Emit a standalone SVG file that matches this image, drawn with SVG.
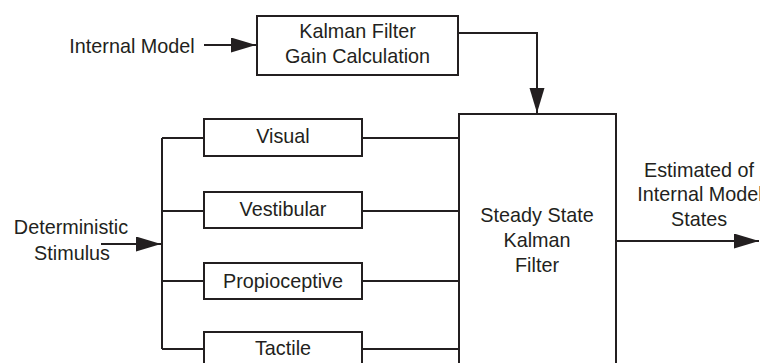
<svg xmlns="http://www.w3.org/2000/svg" width="760" height="363" viewBox="0 0 760 363">
<defs>
<style>
.box{fill:#fff;stroke:#231f20;stroke-width:2}
.ln{fill:none;stroke:#231f20;stroke-width:2}
text{font-family:"Liberation Sans",Arial,sans-serif;font-size:19.8px;fill:#231f20;text-anchor:middle}
</style>
<marker id="ah" markerUnits="userSpaceOnUse" markerWidth="26" markerHeight="16" refX="25" refY="7.5" orient="auto">
<path d="M0,0 L25,7.5 L0,15 Z" fill="#231f20"/>
</marker>
</defs>
<rect width="760" height="363" fill="#fff"/>
<g id="connectors">
<path class="ln" d="M204,45 H256" marker-end="url(#ah)"/>
<path class="ln" d="M459,33 H537 V113" marker-end="url(#ah)"/>
<path class="ln" d="M616,241 H759" marker-end="url(#ah)"/>
<path class="ln" d="M101,244 H161" marker-end="url(#ah)"/>
<path class="ln" d="M162,138 V349"/>
<path class="ln" d="M162,138 H204 M162,211 H204 M162,281 H204 M162,349 H204"/>
<path class="ln" d="M362,138 H459 M362,211 H459 M362,281 H459 M362,349 H459"/>
</g>
<g id="internal-model"><text x="132" y="53">Internal Model</text></g>
<g id="kalman-gain">
<rect class="box" x="257" y="16" width="201" height="59"/>
<text x="357.5" y="38">Kalman Filter</text>
<text x="357.5" y="63">Gain Calculation</text>
</g>
<g id="stimulus">
<text x="71" y="234">Deterministic</text>
<text x="72" y="260">Stimulus</text>
</g>
<g id="visual"><rect class="box" x="204" y="119" width="158" height="37"/><text x="283" y="143">Visual</text></g>
<g id="vestibular"><rect class="box" x="204" y="192" width="158" height="36"/><text x="283" y="216">Vestibular</text></g>
<g id="propioceptive"><rect class="box" x="204" y="263" width="158" height="36"/><text x="283" y="288">Propioceptive</text></g>
<g id="tactile"><rect class="box" x="204" y="332" width="158" height="40"/><text x="283" y="355">Tactile</text></g>
<g id="steady-state">
<rect class="box" x="459" y="114" width="157" height="260"/>
<text x="537" y="222">Steady State</text>
<text x="537" y="247">Kalman</text>
<text x="537" y="272">Filter</text>
</g>
<g id="estimated">
<text x="699" y="177">Estimated of</text>
<text x="700" y="201">Internal Model</text>
<text x="699" y="226">States</text>
</g>
</svg>
